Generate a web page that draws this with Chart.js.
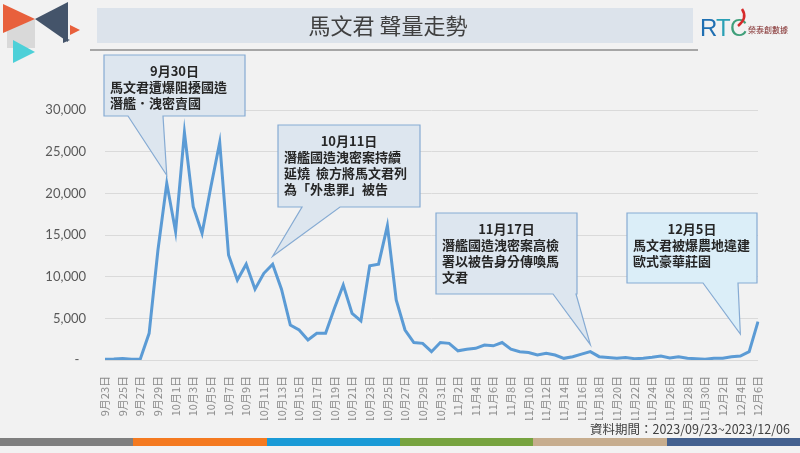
<!DOCTYPE html>
<html>
<head>
<meta charset="utf-8">
<script src="https://cdn.jsdelivr.net/npm/chart.js@4.4.0/dist/chart.umd.min.js"></script>
<style>
  html, body { margin: 0; padding: 0; background: #f2f2f2; }
  canvas { display: block; }
</style>
</head>
<body>
<canvas id="trendChart" width="800" height="453" style="width:800px;height:453px"></canvas>
<script>
const dates = [
  "9月23日", "9月24日", "9月25日", "9月26日", "9月27日", "9月28日", "9月29日", "9月30日",
  "10月1日", "10月2日", "10月3日", "10月4日", "10月5日", "10月6日", "10月7日", "10月8日",
  "10月9日", "10月10日", "10月11日", "10月12日", "10月13日", "10月14日", "10月15日", "10月16日",
  "10月17日", "10月18日", "10月19日", "10月20日", "10月21日", "10月22日", "10月23日", "10月24日",
  "10月25日", "10月26日", "10月27日", "10月28日", "10月29日", "10月30日", "10月31日",
  "11月1日", "11月2日", "11月3日", "11月4日", "11月5日", "11月6日", "11月7日", "11月8日",
  "11月9日", "11月10日", "11月11日", "11月12日", "11月13日", "11月14日", "11月15日", "11月16日",
  "11月17日", "11月18日", "11月19日", "11月20日", "11月21日", "11月22日", "11月23日", "11月24日",
  "11月25日", "11月26日", "11月27日", "11月28日", "11月29日", "11月30日",
  "12月1日", "12月2日", "12月3日", "12月4日", "12月5日", "12月6日"
];

// daily mention volume
const volume = [
  100, 120, 180, 100, 120, 3200, 13200, 21200,
  15400, 27300, 18400, 15200, 20800, 26100, 12600, 9600,
  11500, 8500, 10400, 11500, 8500, 4200, 3600, 2400,
  3200, 3200, 6200, 9000, 5600, 4700, 11300, 11500,
  16100, 7200, 3600, 2100, 2000, 1000, 2100,
  2000, 1100, 1300, 1400, 1800, 1700, 2100, 1300,
  1000, 900, 600, 800, 600, 200, 400, 700,
  1000, 400, 300, 200, 300, 160, 200, 320,
  480, 240, 400, 200, 160, 100,
  200, 200, 400, 480, 1000, 4600
];

const yTickValues = [0, 5000, 10000, 15000, 20000, 25000, 30000];

// callouts: text + the day they point at
const callouts = [
  { idx: 7, lift: 8, box: [104, 55, 141, 61], base: [128, 163], fill: "#dde6ef",
    title: "9月30日", lines: ["馬文君遭爆阻擾國造", "潛艦．洩密賣國"] },
  { idx: 19, lift: 8, box: [278, 125, 142, 82], base: [302, 340], fill: "#dde6ef",
    title: "10月11日", lines: ["潛艦國造洩密案持續", "延燒  檢方將馬文君列", "為「外患罪」被告"] },
  { idx: 55, lift: 7, box: [436, 213, 141, 81], base: [553, 576], fill: "#dde6ef",
    title: "11月17日", lines: ["潛艦國造洩密案高檢", "署以被告身分傳喚馬", "文君"] },
  { idx: 72, lift: 22, box: [627, 213, 130, 70], base: [703, 738], fill: "#dbeef8",
    title: "12月5日", lines: ["馬文君被爆農地違建", "歐式豪華莊園"] }
];

const footerColors = ["#7f7f7f", "#f47a20", "#1a9ad6", "#77a33f", "#c7ad8e", "#44618f"];

const CJK = '"Noto Sans CJK TC", "Noto Sans CJK SC", sans-serif';

function tri(ctx, pts, color) {
  ctx.fillStyle = color;
  ctx.beginPath();
  ctx.moveTo(pts[0][0], pts[0][1]);
  for (let i = 1; i < pts.length; i++) ctx.lineTo(pts[i][0], pts[i][1]);
  ctx.closePath();
  ctx.fill();
}

const decorPlugin = {
  id: "decor",
  beforeDraw(chart) {
    const ctx = chart.ctx;
    ctx.save();
    ctx.fillStyle = "#f2f2f2";
    ctx.fillRect(0, 0, chart.width, chart.height);

    // header band
    ctx.fillStyle = "#dce3eb";
    ctx.fillRect(97, 8, 596, 35);
    ctx.fillStyle = "#a6a6a6";
    ctx.fillRect(90, 49, 608, 2);
    ctx.fillStyle = "#404040";
    ctx.font = "22px " + CJK;
    ctx.textAlign = "center";
    ctx.textBaseline = "middle";
    ctx.fillText("馬文君 聲量走勢", 388, 26);

    // left logo
    tri(ctx, [[7, 30], [35, 19], [35, 48], [7, 48]], "#d9d9d9");
    tri(ctx, [[3, 4], [35, 19], [3, 33]], "#e8603c");
    tri(ctx, [[68, 2], [35, 19], [68, 42]], "#44546a");
    tri(ctx, [[13, 40], [35, 52], [13, 63]], "#4dd0d8");
    tri(ctx, [[70, 25], [80, 30], [70, 35]], "#e8603c");
    tri(ctx, [[63, 37], [70, 40], [63, 43]], "#44546a");

    // RTC logo
    ctx.textAlign = "left";
    ctx.textBaseline = "alphabetic";
    ctx.font = "24px 'Liberation Sans', sans-serif";
    ctx.fillStyle = "#1f6fb2";
    ctx.fillText("R", 700, 36);
    ctx.fillStyle = "#2aa0b5";
    ctx.fillText("T", 716, 36);
    ctx.fillStyle = "#3f9f7a";
    ctx.fillText("C", 730, 36);
    ctx.strokeStyle = "#d62b2b";
    ctx.lineWidth = 2.5;
    ctx.beginPath();
    ctx.moveTo(738, 26);
    ctx.quadraticCurveTo(748, 18, 742, 9);
    ctx.stroke();
    ctx.font = "8px " + CJK;
    ctx.fillStyle = "#7a1f1f";
    ctx.fillText("榮泰創數據", 748, 33);

    // footer bars + period
    const w = chart.width / footerColors.length;
    footerColors.forEach((c, i) => {
      ctx.fillStyle = c;
      ctx.fillRect(Math.round(i * w), 438, Math.ceil(w) + 1, 8);
    });
    ctx.fillStyle = "#404040";
    ctx.font = "12.5px " + CJK;
    ctx.textAlign = "right";
    ctx.textBaseline = "middle";
    ctx.fillText("資料期間：2023/09/23~2023/12/06", 790, 429);
    ctx.restore();
  },
  afterDatasetsDraw(chart) {
    const ctx = chart.ctx;
    const xs = chart.scales.x;
    const ys = chart.scales.y;
    ctx.save();
    callouts.forEach((c) => {
      const [bx, by, bw, bh] = c.box;
      const tx = xs.getPixelForValue(c.idx);
      const ty = ys.getPixelForValue(volume[c.idx]) - c.lift;
      const bottom = by + bh;
      ctx.beginPath();
      ctx.moveTo(bx, by);
      ctx.lineTo(bx + bw, by);
      ctx.lineTo(bx + bw, bottom);
      ctx.lineTo(c.base[1], bottom);
      ctx.lineTo(tx, ty);
      ctx.lineTo(c.base[0], bottom);
      ctx.lineTo(bx, bottom);
      ctx.closePath();
      ctx.fillStyle = c.fill;
      ctx.fill();
      ctx.strokeStyle = "#86abd3";
      ctx.lineWidth = 1.2;
      ctx.stroke();

      ctx.fillStyle = "#262626";
      ctx.font = "bold 13px " + CJK;
      ctx.textBaseline = "middle";
      ctx.textAlign = "center";
      ctx.fillText(c.title, bx + bw / 2, by + 16);
      ctx.textAlign = "left";
      c.lines.forEach((t, i) => {
        ctx.fillText(t, bx + 6, by + 32 + i * 16);
      });
    });
    ctx.restore();
  }
};

new Chart(document.getElementById("trendChart"), {
  type: "line",
  data: {
    labels: dates,
    datasets: [
      {
        label: "聲量",
        data: volume,
        borderColor: "#5b9bd5",
        borderWidth: 3,
        pointRadius: 0,
        tension: 0,
        fill: false,
      },
    ],
  },
  options: {
    responsive: false,
    animation: false,
    devicePixelRatio: 1,
    layout: { padding: { left: 25, right: 42, top: 110, bottom: 33 } },
    plugins: {
      legend: { display: false },
      tooltip: { enabled: false },
    },
    scales: {
      x: {
        offset: false,
        grid: { display: false },
        border: { display: false },
        ticks: {
          autoSkip: false,
          maxRotation: 90,
          minRotation: 90,
          padding: 8,
          color: "#8c8c8c",
          font: { family: CJK, size: 11 },
          callback: (val, idx) => (idx % 2 === 0 ? dates[idx] : ""),
        },
        afterFit: (s) => { s.height = 60; },
      },
      y: {
        min: 0,
        max: 30000,
        afterBuildTicks: (s) => { s.ticks = yTickValues.map((v) => ({ value: v })); },
        grid: { color: "#dadada", drawTicks: false },
        border: { display: false },
        ticks: {
          padding: 19,
          color: "#595959",
          font: { family: "Lato, 'Open Sans', sans-serif", size: 13 },
          callback: (v) => (v === 0 ? "-  " : v.toLocaleString("en-US")),
        },
        afterFit: (s) => { s.width = 80; },
      },
    },
  },
  plugins: [decorPlugin],
});
</script>
</body>
</html>
